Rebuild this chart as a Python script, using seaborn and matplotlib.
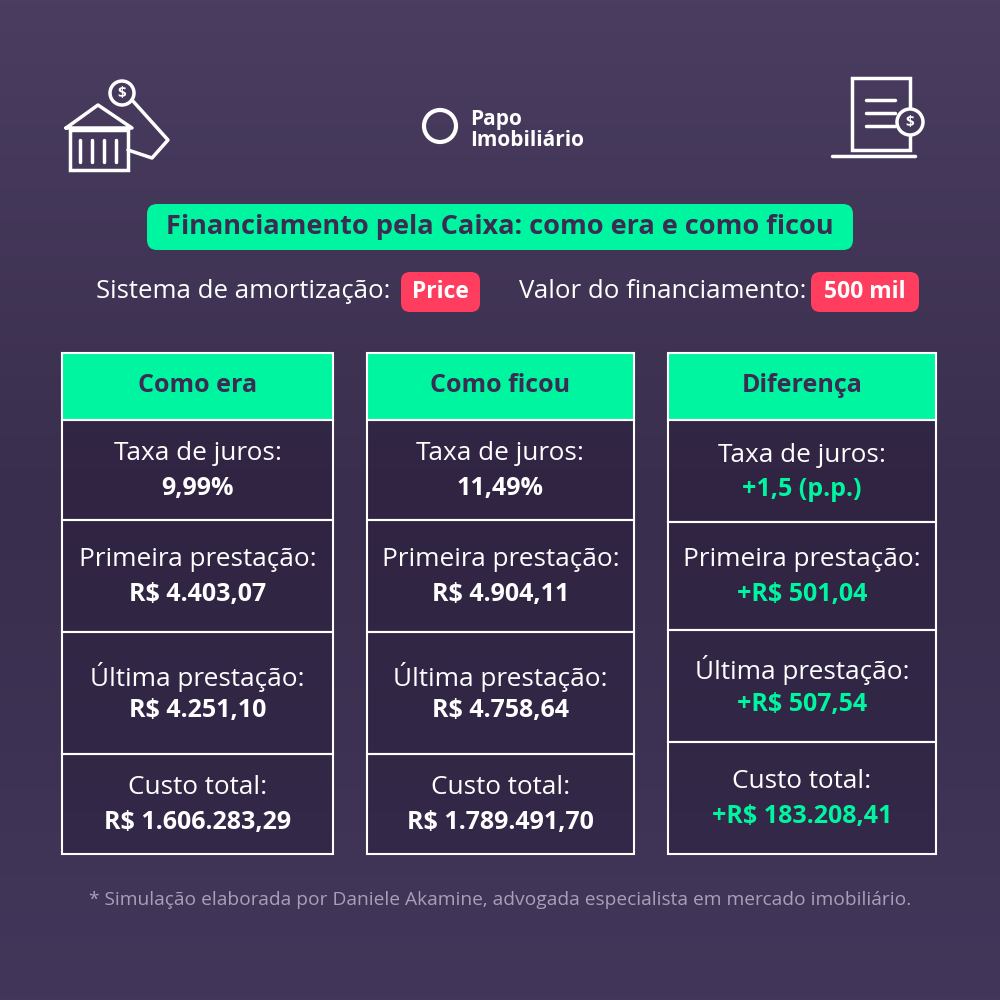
import matplotlib
matplotlib.use('Agg')
import matplotlib.pyplot as plt
import seaborn as sns
import numpy as np
from matplotlib.patches import Rectangle, FancyBboxPatch, Circle

sns.set_theme(style="white", font="Open Sans")

# data
title = "Financiamento pela Caixa: como era e como ficou"
system_label = "Sistema de amortização:"
system_value = "Price"
amount_label = "Valor do financiamento:"
amount_value = "500 mil"
columns = ["Como era", "Como ficou", "Diferença"]
row_labels = ["Taxa de juros:", "Primeira prestação:", "Última prestação:", "Custo total:"]
values_era = ["9,99%", "R$ 4.403,07", "R$ 4.251,10", "R$ 1.606.283,29"]
values_ficou = ["11,49%", "R$ 4.904,11", "R$ 4.758,64", "R$ 1.789.491,70"]
values_diff = ["+1,5 (p.p.)", "+R$ 501,04", "+R$ 507,54", "+R$ 183.208,41"]
footnote = "* Simulação elaborada por Daniele Akamine, advogada especialista em mercado imobiliário."

GREEN = "#00f5a0"
DARK = "#3b2c52"
RED = "#ff3d5e"

fig = plt.figure(figsize=(10, 10), dpi=100)
ax = fig.add_axes([0, 0, 1, 1])
ax.set_xlim(0, 1000)
ax.set_ylim(1000, 0)
ax.axis('off')

# background gradient
grad = np.linspace(0, 1, 256).reshape(-1, 1)
cmap = sns.blend_palette(["#4a3d60", "#3a2e4e", "#42365a"], as_cmap=True)
ax.imshow(grad, extent=[0, 1000, 1000, 0], cmap=cmap, aspect='auto', zorder=0)

# logo
ax.text(470, 130, "Papo\nImobiliário", color="white", fontsize=15, fontweight='bold',
        va='center', ha='left', linespacing=1.05)
ax.add_patch(Circle((440, 126), 16, fill=False, ec="white", lw=3))

# bank icon (rough)
ax.add_patch(Rectangle((70, 130), 58, 40, fill=False, ec="white", lw=2.5))
ax.plot([66, 98, 132, 66], [128, 105, 128, 128], color="white", lw=2.5)
for xi in [80, 92, 104, 116]:
    ax.plot([xi, xi], [140, 162], color="white", lw=2.5)
ax.plot([132, 168, 152, 128], [100, 140, 158, 150], color="white", lw=2.5)
ax.add_patch(Circle((122, 93), 12, fc="#463a5c", ec="white", lw=2.5))
ax.text(122, 93, "$", color="white", fontsize=11, ha='center', va='center', fontweight='bold')

# document icon (rough)
ax.add_patch(Rectangle((852, 78), 58, 72, fill=False, ec="white", lw=2.5))
for yi in [100, 113, 126]:
    ax.plot([866, 895], [yi, yi], color="white", lw=2.5)
ax.plot([832, 915], [156, 156], color="white", lw=2.5)
ax.add_patch(Circle((910, 122), 13, fc="#463a5c", ec="white", lw=2.5))
ax.text(910, 122, "$", color="white", fontsize=11, ha='center', va='center', fontweight='bold')

# title
ax.add_patch(FancyBboxPatch((147, 204), 706, 46, boxstyle="round,pad=0,rounding_size=10",
                            fc=GREEN, ec="none"))
ax.text(500, 227, title, color=DARK, fontsize=19.5, fontweight='bold', ha='center', va='center')

# subtitle line with pills
ax.text(390, 292, system_label, color="white", fontsize=18.5, ha='right', va='center')
ax.add_patch(FancyBboxPatch((401, 272), 79, 40, boxstyle="round,pad=0,rounding_size=9", fc=RED, ec="none"))
ax.text(440, 292, system_value, color="white", fontsize=16.5, fontweight='bold', ha='center', va='center')
ax.text(806, 292, amount_label, color="white", fontsize=18.5, ha='right', va='center')
ax.add_patch(FancyBboxPatch((811, 272), 108, 40, boxstyle="round,pad=0,rounding_size=9", fc=RED, ec="none"))
ax.text(865, 292, amount_value, color="white", fontsize=16.5, fontweight='bold', ha='center', va='center')

# table
col_x = [(62, 333), (367, 634), (668, 936)]
row_edges = [
    [420, 520, 632, 754, 854],
    [420, 520, 632, 754, 854],
    [420, 522, 630, 742, 854],
]
all_values = [values_era, values_ficou, values_diff]
value_colors = ["white", "white", GREEN]

for c, (x0, x1) in enumerate(col_x):
    ax.add_patch(Rectangle((x0, 353), x1 - x0, 67, fc=GREEN, ec="white", lw=1.5, zorder=2))
    ax.text((x0 + x1) / 2, 386, columns[c], color=DARK, fontsize=18, fontweight='bold',
            ha='center', va='center', zorder=3)
    edges = row_edges[c]
    for r in range(4):
        y0, y1 = edges[r], edges[r + 1]
        ax.add_patch(Rectangle((x0, y0), x1 - x0, y1 - y0, fc=(0.12, 0.08, 0.18, 0.35),
                               ec="white", lw=1.5, zorder=2))
        cy = (y0 + y1) / 2
        ax.text((x0 + x1) / 2, cy - 16, row_labels[r], color="white", fontsize=18.8,
                ha='center', va='center', zorder=3)
        ax.text((x0 + x1) / 2, cy + 18, all_values[c][r], color=value_colors[c], fontsize=18,
                fontweight='bold', ha='center', va='center', zorder=3)

ax.text(500, 900, footnote, color="#a99fb8", fontsize=13.8, ha='center', va='center')

fig.savefig("out.png", dpi=100)
plt.close(fig)
